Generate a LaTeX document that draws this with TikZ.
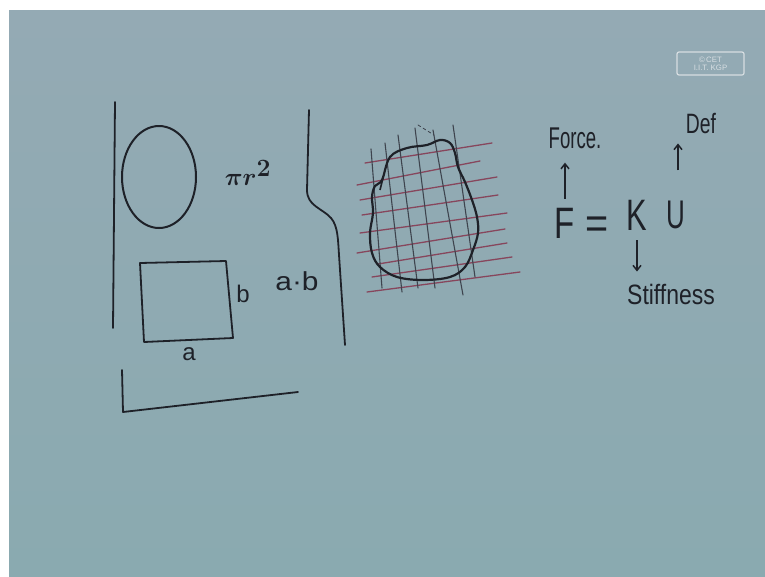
\documentclass[tikz,border=0pt]{standalone}
\usepackage{fontspec}
\setmainfont{Liberation Sans}
\usetikzlibrary{arrows.meta,calc}
\definecolor{boardtop}{RGB}{148,170,180}
\definecolor{boardbot}{RGB}{138,170,176}
\definecolor{ink}{RGB}{30,33,40}
\definecolor{gridred}{RGB}{135,70,92}
\definecolor{gridgray}{RGB}{62,68,78}
\definecolor{logoline}{RGB}{215,222,226}
\tikzset{
  hw/.style={text=ink, inner sep=0pt, font=\fontsize{#1}{#1}\selectfont},
  pen/.style={draw=ink, line width=1.8pt, line cap=round, line join=round},
  redline/.style={draw=gridred, line width=1.3pt, line cap=round},
  grayline/.style={draw=gridgray, line width=1.1pt, line cap=round},
  harrow/.style={draw=ink, line width=1.5pt, -{Straight Barb[length=5pt,width=8pt]}}
}
\begin{document}
\begin{tikzpicture}[x=1pt,y=-1pt]
\useasboundingbox (0,0) rectangle (765,576);
\fill[white] (0,0) rectangle (765,576);
\shade[top color=boardtop, bottom color=boardbot] (9,10) rectangle (765,576);

% logo
\node[draw=logoline, rounded corners=2pt, line width=1.2pt, minimum width=67, minimum height=23,
      text=logoline, font=\fontsize{7.8}{8}\selectfont, align=center, inner sep=1pt] (logo) at (710.5,63.5)
      {\copyright\,CET\\I.I.T. KGP};

% left region
\draw[pen] (115,102) -- (113,328);
\draw[pen, line width=2pt] (159,177) ellipse [x radius=37, y radius=51];
\node[text=ink, inner sep=0pt, font=\fontsize{42}{42}\selectfont\boldmath] (pir) at (248,173) {$\pi r^2$};
\draw[pen] (140,263) -- (226,261) -- (233,338) -- (144,342) -- cycle;
\node[hw=24] (lb) at (243,294) {b};
\node[hw=26, xscale=1.15] (ab) at (297,281) {a·b};
\node[hw=24] (la) at (189,354) {a};
\draw[pen] (309,110) -- (307,190) .. controls (307,206) and (322,208) .. (331,218) .. controls (338,226) and (338,240) .. (339,255) -- (345,345);
\draw[pen] (122,370) -- (123,412) -- (298,392);

% grid
\draw[redline] (365,163) -- (492,143);
\draw[redline] (357,185) -- (480,161);
\draw[redline] (360,200) -- (497,177);
\draw[redline] (362,215) -- (498,195);
\draw[redline] (360,233) -- (507,213);
\draw[redline] (357,253) -- (505,229);
\draw[redline] (378,264) -- (507,243);
\draw[redline] (372,277) -- (512,257);
\draw[redline] (367,292) -- (520,272);
\draw[grayline] (371,149) -- (382,288);
\draw[grayline] (385,143) -- (402,292);
\draw[grayline] (398,135) -- (418,288);
\draw[grayline] (415,128) -- (435,288);
\draw[grayline] (433,130) -- (463,295);
\draw[grayline] (453,125) -- (475,277);
\draw[grayline, dashed, line width=0.8pt] (418,125) -- (434,135);
\draw[draw=ink, line width=2.2pt] plot[smooth cycle, tension=0.6] coordinates {
 (382,180) (390,157) (407,148) (427,145) (440,140) (450,143) (455,153) (458,167)
 (465,182) (472,200) (477,217) (478,233) (473,250) (465,267) (450,277) (423,280)
 (397,277) (380,267) (372,253) (370,233) (373,213) (372,197) (375,186)};
\draw[draw=ink, line width=1.6pt] (380,190) -- (383,178);

% F = K U
\node[hw=30, xscale=0.62] (force) at (575,138) {Force.};
\node[hw=44, xscale=0.75, anchor=base] (F) at (565,238) {F};
\node[hw=44, xscale=0.9, anchor=base] (eq) at (597,238) {=};
\node[hw=44, xscale=0.7, anchor=base] (K) at (637,230) {K};
\node[hw=40, xscale=0.65, anchor=base] (U) at (676,228) {U};
\node[hw=28, xscale=0.82] (stiff) at (671,294) {Stiffness};
\node[hw=28, xscale=0.69] (def) at (701,124) {Def};
\draw[harrow, shorten <=9pt, shorten >=14pt] (F.north) -- (F.north |- force.south);
\draw[harrow, shorten <=10pt, shorten >=12pt] (K.south) -- (K.south |- stiff.north);
\draw[harrow, shorten <=30pt, shorten >=9pt] ($(U.north)+(2,0)$) -- ($(U.north |- def.south)+(2,0)$);
\end{tikzpicture}
\end{document}
